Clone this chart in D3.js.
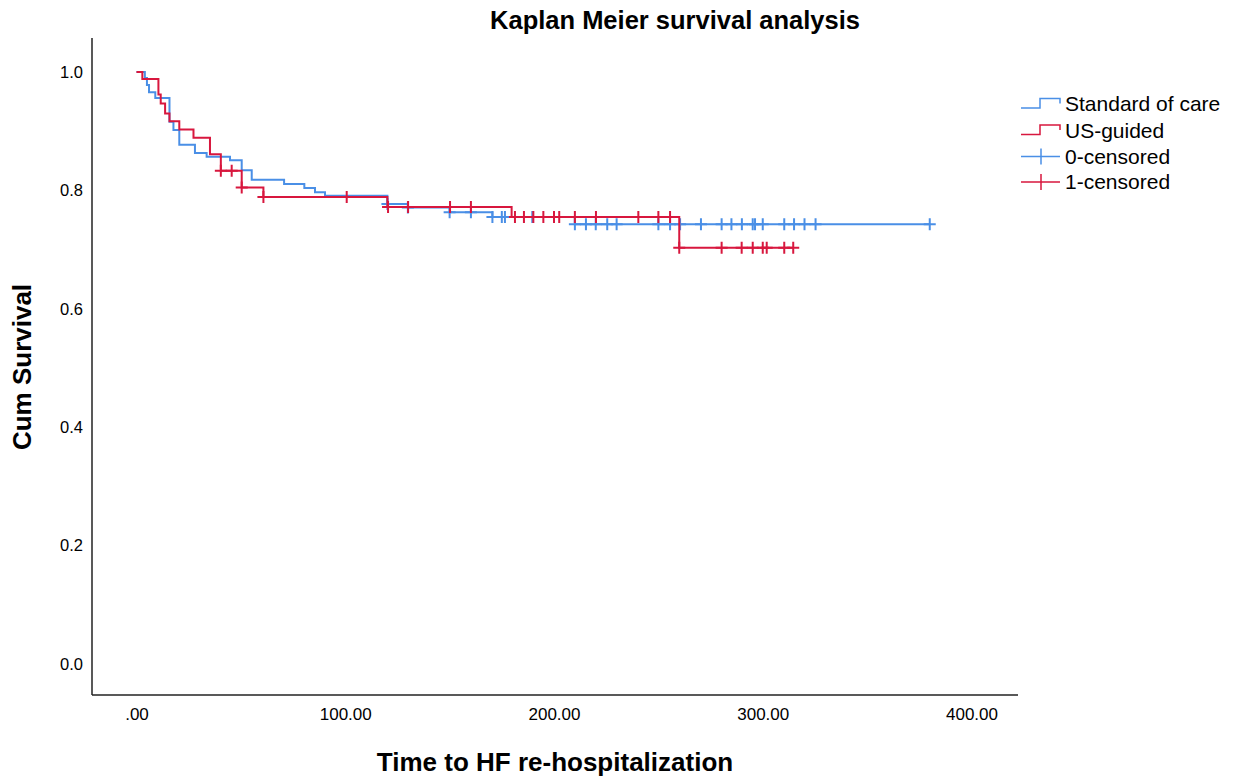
<!DOCTYPE html>
<html>
<head>
<meta charset="utf-8">
<script src="https://cdn.jsdelivr.net/npm/d3@7/dist/d3.min.js"></script>
<style>
    body { margin: 0; background: #fff; }
    text { font-family: "Liberation Sans", Arial, sans-serif; fill: #000; }
</style>
</head>
<body>
<svg id="chart" width="1236" height="776"></svg>
<script>
// data
var groupNames = ["Standard of care", "US-guided"];
var censorNames = ["0-censored", "1-censored"];

// standard of care (blue): event times and survival after each drop
var socTimes = [0, 4, 5, 6, 9, 15.8, 17.7, 20.5, 28, 33.6, 44.8, 50.4, 55.2, 70.7, 80.4, 85.5, 90.3, 120.2, 130, 150, 170.5, 210];
var socSurv = [1, 0.99, 0.978, 0.966, 0.956, 0.916, 0.902, 0.877, 0.863, 0.857, 0.851, 0.834, 0.818, 0.811, 0.804, 0.797, 0.791, 0.777, 0.771, 0.763, 0.755, 0.743];
var socCensored = [120.2, 130, 150, 160.2, 170.5, 175, 176.5, 189.6, 210, 215.3, 220, 225.5, 230, 250, 255.6, 260.4, 270.4, 280.3, 285, 290, 295.2, 296.3, 300, 310.3, 315, 320, 325.3, 380];

// us-guided (red)
var usTimes = [0, 2.8, 10.5, 11.6, 13.7, 15.8, 20.5, 27.3, 35.2, 40.4, 50.4, 60.8, 120.2, 179.7, 260];
var usSurv = [1, 0.988, 0.962, 0.947, 0.93, 0.917, 0.903, 0.889, 0.861, 0.833, 0.805, 0.789, 0.772, 0.755, 0.703];
var usCensored = [40.4, 45.6, 50.4, 60.8, 100.7, 120.5, 130.1, 150.2, 160.2, 181.3, 185.6, 190.1, 194.9, 200, 202.5, 210, 220.1, 240.4, 250, 255.6, 260, 280.3, 289.9, 295.2, 300, 301.9, 310.3, 314.6];

var xTicks = [0, 100, 200, 300, 400];
var yTicks = [0, 0.2, 0.4, 0.6, 0.8, 1.0];

var colors = ["#4a8fe6", "#d8173e"];

// layout
var svg = d3.select("#chart");
var frame = {left: 92, right: 1018, top: 38, bottom: 695};

var x = d3.scaleLinear().domain([0, 400]).range([136.5, 971.5]);
var y = d3.scaleLinear().domain([0, 1]).range([664, 72]);

// survival at time t (value after the last drop at or before t)
const survAt = (times, surv, t) => {
    let s = surv[0];
    for (let i = 0; i < times.length; i++) {
        if (times[i] <= t + 1e-9) s = surv[i];
    }
    return s;
}

const stepPoints = (times, surv, censored) => {
    let pts = times.map((t, i) => [t, surv[i]]);
    let end = d3.max(censored);
    pts.push([end, survAt(times, surv, end)]);
    return pts;
}

// title
svg.append("text")
    .attr("x", 675).attr("y", 29)
    .attr("text-anchor", "middle")
    .style("font-size", "25.5px").style("font-weight", "bold")
    .text("Kaplan Meier survival analysis");

// frame lines
svg.append("line")
    .attr("x1", frame.left).attr("x2", frame.left)
    .attr("y1", frame.top).attr("y2", frame.bottom)
    .attr("stroke", "#222").attr("stroke-width", 1.5);
svg.append("line")
    .attr("x1", frame.left).attr("x2", frame.right)
    .attr("y1", frame.bottom).attr("y2", frame.bottom)
    .attr("stroke", "#222").attr("stroke-width", 1.5);

// axes (labels only, no tick marks)
var xAxis = d3.axisBottom(x).tickValues(xTicks).tickSize(0).tickPadding(0)
    .tickFormat(d => d === 0 ? ".00" : d3.format(".2f")(d));
var gx = svg.append("g").attr("transform", "translate(0," + 708 + ")").call(xAxis);
gx.select(".domain").remove();
gx.selectAll("text").style("font-size", "17px").attr("dy", "0.71em").attr("y", 0)
    .style("font-family", "'Liberation Sans', Arial, sans-serif").attr("fill", "#111");

var yAxis = d3.axisLeft(y).tickValues(yTicks).tickSize(0).tickPadding(0)
    .tickFormat(d3.format(".1f"));
var gy = svg.append("g").attr("transform", "translate(" + 83 + ",0)").call(yAxis);
gy.select(".domain").remove();
gy.selectAll("text").style("font-size", "16.5px")
    .style("font-family", "'Liberation Sans', Arial, sans-serif").attr("fill", "#111");

// axis titles
svg.append("text")
    .attr("x", 555).attr("y", 771)
    .attr("text-anchor", "middle")
    .style("font-size", "26px").style("font-weight", "bold")
    .text("Time to HF re-hospitalization");

svg.append("text")
    .attr("transform", "translate(31,367) rotate(-90)")
    .attr("text-anchor", "middle")
    .style("font-size", "26px").style("font-weight", "bold")
    .text("Cum Survival");

// curves
var stepLine = d3.line()
    .x(d => x(d[0])).y(d => y(d[1]))
    .curve(d3.curveStepAfter);

var series = [
    {times: socTimes, surv: socSurv, censored: socCensored, color: colors[0]},
    {times: usTimes, surv: usSurv, censored: usCensored, color: colors[1]}
];

series.forEach(s => {
    svg.append("path")
        .datum(stepPoints(s.times, s.surv, s.censored))
        .attr("d", stepLine)
        .attr("fill", "none")
        .attr("stroke", s.color)
        .attr("stroke-width", 2);

    // censor marks are small plus signs
    let marks = svg.append("g");
    s.censored.forEach(t => {
        let cx = x(t), cy = y(survAt(s.times, s.surv, t));
        marks.append("path")
            .attr("d", "M" + (cx - 6) + "," + cy + "H" + (cx + 6) + "M" + cx + "," + (cy - 6) + "V" + (cy + 6))
            .attr("stroke", s.color)
            .attr("stroke-width", 2)
            .attr("fill", "none");
    });
});

// legend
var legend = svg.append("g").attr("transform", "translate(1021,0)");
var rowY = [103, 129.5, 156.5, 182];

groupNames.forEach((name, i) => {
    let cy = rowY[i];
    legend.append("path")
        .attr("d", "M0," + (cy + 5) + "H19V" + (cy - 4.5) + "H39V" + (cy + 0.5))
        .attr("fill", "none").attr("stroke", colors[i]).attr("stroke-width", 1.5);
    legend.append("text")
        .attr("x", 44).attr("y", cy + 8)
        .style("font-size", "21px")
        .text(name);
});

censorNames.forEach((name, i) => {
    let cy = rowY[i + 2];
    legend.append("path")
        .attr("d", "M0," + cy + "H39M20," + (cy - 8) + "V" + (cy + 8))
        .attr("fill", "none").attr("stroke", colors[i]).attr("stroke-width", 1.5);
    legend.append("text")
        .attr("x", 44).attr("y", cy + 7)
        .style("font-size", "21px")
        .text(name);
});
</script>
</body>
</html>
